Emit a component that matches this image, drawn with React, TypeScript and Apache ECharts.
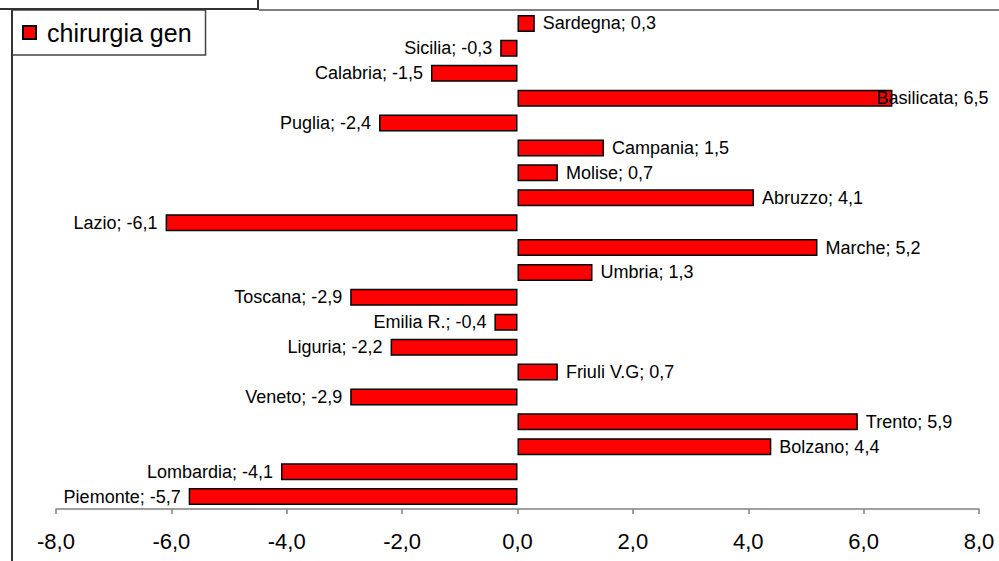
import React, { useEffect, useRef } from "react";
import * as echarts from "echarts";

const regions = [
  "Sardegna", "Sicilia", "Calabria", "Basilicata", "Puglia", "Campania", "Molise",
  "Abruzzo", "Lazio", "Marche", "Umbria", "Toscana", "Emilia R.", "Liguria",
  "Friuli V.G", "Veneto", "Trento", "Bolzano", "Lombardia", "Piemonte",
];
const values = [
  0.3, -0.3, -1.5, 6.5, -2.4, 1.5, 0.7, 4.1, -6.1, 5.2, 1.3, -2.9, -0.4, -2.2,
  0.7, -2.9, 5.9, 4.4, -4.1, -5.7,
];
const seriesName = "chirurgia gen";
const axisMin = -8;
const axisMax = 8;
const axisStep = 2;

const fmt = (v: number) => v.toFixed(1).replace(".", ",");
const FONT = "'Liberation Sans', Arial, sans-serif";

export default function App() {
  const ref = useRef<HTMLDivElement>(null);
  useEffect(() => {
    if (!ref.current) return;
    const chart = echarts.init(ref.current, undefined, { renderer: "svg" });
    const data = values.map((v, i) => {
      const item: any = {
        value: v,
        label: {
          position: v >= 0 ? "right" : "left",
        },
      };
      if (regions[i] === "Basilicata") {
        item.label.offset = [-24, 0];
      }
      return item;
    });
    chart.setOption({
      animation: false,
      backgroundColor: "#ffffff",
      textStyle: { fontFamily: FONT },
      grid: { left: 56, right: 20, top: 11, bottom: 52, containLabel: false },
      legend: {
        show: true,
        left: 12,
        top: 10,
        orient: "vertical",
        padding: [10, 14, 10, 10],
        backgroundColor: "#ffffff",
        borderColor: "#444",
        borderWidth: 1.5,
        borderRadius: 0,
        itemWidth: 13,
        itemHeight: 13,
        icon: "rect",
        textStyle: {
          fontSize: 25,
          color: "#000",
          fontFamily: FONT,
          lineHeight: 25,
          padding: [0, 0, 0, 6],
        },
        data: [seriesName],
      },
      xAxis: {
        type: "value",
        min: axisMin,
        max: axisMax,
        interval: axisStep,
        splitLine: { show: false },
        axisLine: { show: true, onZero: false, lineStyle: { color: "#808080", width: 1.5 } },
        axisTick: { show: true, length: 5, lineStyle: { color: "#808080", width: 1.5 } },
        axisLabel: {
          formatter: (v: number) => fmt(v),
          fontSize: 22,
          color: "#000",
          margin: 21,
          fontFamily: FONT,
        },
      },
      yAxis: {
        type: "category",
        data: regions,
        inverse: true,
        axisLine: { show: false },
        axisTick: { show: false },
        axisLabel: { show: false },
        splitLine: { show: false },
      },
      series: [
        {
          name: seriesName,
          type: "bar",
          data,
          barWidth: 17,
          itemStyle: { color: "#ff0000", borderColor: "#000", borderWidth: 1.5 },
          label: {
            show: true,
            distance: 8,
            fontSize: 18,
            color: "#000",
            fontFamily: FONT,
            formatter: (p: any) => `${p.name}; ${fmt(p.value)}`,
          },
        },
      ],
      graphic: [
        {
          type: "rect",
          shape: { x: -3, y: -3, width: 261, height: 12 },
          style: { fill: "#fff", stroke: "#333", lineWidth: 2 },
          z: 100,
        },
        {
          type: "line",
          shape: { x1: 259, y1: 10, x2: 999, y2: 10 },
          style: { stroke: "#000", lineWidth: 1 },
          z: 100,
        },
        {
          type: "line",
          shape: { x1: 12, y1: 10, x2: 12, y2: 561 },
          style: { stroke: "#333", lineWidth: 2 },
          z: 100,
        },
      ],
    });
    return () => chart.dispose();
  }, []);
  return (
    <div
      ref={ref}
      style={{ position: "fixed", left: 0, top: 0, width: 999, height: 561, background: "#fff" }}
    />
  );
}
